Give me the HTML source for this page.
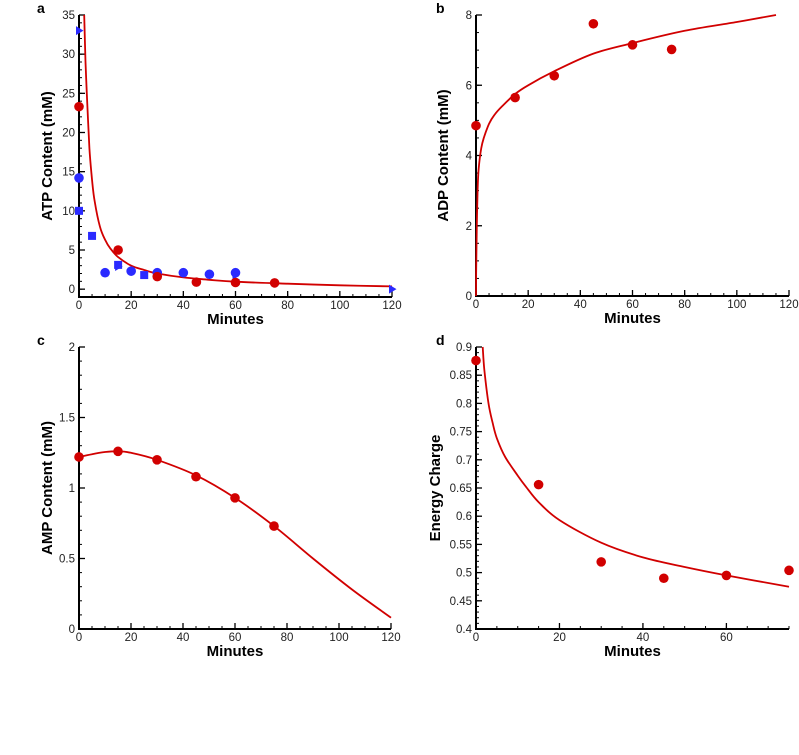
<!DOCTYPE html>
<html><head><meta charset="utf-8"><style>
body{margin:0;background:#fff;}
svg{display:block;font-family:"Liberation Sans",Arial,sans-serif;}
</style></head><body>
<svg id="fig" width="799" height="755" viewBox="0 0 799 755"></svg>
<script>
// Panel a data (ATP)
const atpRedT=[0,15,30,45,60,75];
const atpRedY=[23.3,5,1.6,0.9,0.85,0.8];
const atpCircT=[0,10,20,30,40,50,60];
const atpCircY=[14.2,2.1,2.3,2.1,2.1,1.9,2.1];
const atpSqT=[0,5,15,25];
const atpSqY=[10,6.8,3.1,1.8];
const atpTriT=[0,15,60,120];
const atpTriY=[33,2.9,1.2,0];
const atpFitT=[2,2.5,3,4,5,6,8,10,12,15,20,25,30,40,50,60,80,100,120];
const atpFitY=[35,29,25,18,14,11.2,8,6.3,5.2,4.1,3.0,2.45,2.0,1.5,1.2,0.95,0.7,0.5,0.35];
// Panel b data (ADP)
const adpT=[0,15,30,45,60,75];
const adpY=[4.85,5.65,6.27,7.75,7.15,7.02];
const adpFitT=[0,0.1,0.3,0.6,1,2,3,5,7,10,15,20,30,45,60,80,100,115];
const adpFitY=[0,1.0,2.0,3.0,3.6,4.2,4.5,4.9,5.15,5.4,5.75,6.0,6.4,6.9,7.2,7.55,7.8,8.0];
// Panel c data (AMP)
const ampT=[0,15,30,45,60,75];
const ampY=[1.22,1.26,1.2,1.08,0.93,0.73];
const ampFitT=[0,5,10,15,20,30,45,60,75,90,105,120];
const ampFitY=[1.22,1.24,1.255,1.26,1.25,1.2,1.09,0.93,0.73,0.5,0.28,0.08];
// Panel d data (Energy charge)
const ecT=[0,15,30,45,60,75];
const ecY=[0.876,0.656,0.519,0.49,0.495,0.504];
const ecFitT=[1.6,2,3,4,5,7,10,12,15,20,30,40,50,60,75];
const ecFitY=[0.9,0.86,0.8,0.765,0.738,0.705,0.672,0.652,0.625,0.593,0.553,0.527,0.51,0.495,0.475];
// Tick labels
const ticksA=[0,5,10,15,20,25,30,35];
const ticksB=[0,2,4,6,8];
const ticksC=[0,0.5,1,1.5,2];
const ticksD=[0.4,0.45,0.5,0.55,0.6,0.65,0.7,0.75,0.8,0.85,0.9];
const ticksX120=[0,20,40,60,80,100,120];
const ticksX75=[0,20,40,60];

const NS="http://www.w3.org/2000/svg";
const svg=document.getElementById('fig');
function mk(tag,attrs,parent){const e=document.createElementNS(NS,tag);for(const k in attrs)e.setAttribute(k,attrs[k]);(parent||svg).appendChild(e);return e;}
const RED="#d10000",BLUE="#2a2aff";

function smooth(pts){
  let d='M'+pts[0][0].toFixed(1)+','+pts[0][1].toFixed(1);
  for(let i=0;i<pts.length-1;i++){
    const p0=pts[i-1]||pts[i],p1=pts[i],p2=pts[i+1],p3=pts[i+2]||p2;
    const c1=[p1[0]+(p2[0]-p0[0])/6,p1[1]+(p2[1]-p0[1])/6];
    const c2=[p2[0]-(p3[0]-p1[0])/6,p2[1]-(p3[1]-p1[1])/6];
    d+=` C${c1[0].toFixed(1)},${c1[1].toFixed(1)} ${c2[0].toFixed(1)},${c2[1].toFixed(1)} ${p2[0].toFixed(1)},${p2[1].toFixed(1)}`;
  }
  return d;
}

function panel(p){
  const g=mk('g',{});
  
  
  const sx=v=>p.x0+(v-p.xmin)/(p.xmax-p.xmin)*(p.x1-p.x0);
  const sy=v=>p.y0-(v-p.ymin)/(p.ymax-p.ymin)*(p.y0-p.y1);
  for(let v=p.ymin;v<=p.ymax+1e-9;v+=p.yminor){const y=sy(v);const l=mk('line',{x1:p.x0,x2:p.x0+3,y1:y,y2:y,stroke:'#000','stroke-width':1},g);}
  for(let v=p.xmin;v<=p.xmax+1e-9;v+=p.xminor){const x=sx(v);const l=mk('line',{x1:x,x2:x,y1:p.y0,y2:p.y0-3,stroke:'#000','stroke-width':1},g);}
  p.yt.forEach(v=>{const y=sy(v);const l=mk('line',{x1:p.x0,x2:p.x0+6,y1:y,y2:y,stroke:'#000','stroke-width':1.3},g);
    const t=mk('text',{x:p.x0-4,y:y+4,'text-anchor':'end','font-size':11.5,fill:'#222'},g);t.textContent=p.yfmt?p.yfmt(v):v;});
  p.xt.forEach(v=>{const x=sx(v);const l=mk('line',{x1:x,x2:x,y1:p.y0,y2:p.y0-6,stroke:'#000','stroke-width':1.3},g);
    const t=mk('text',{x:x,y:p.y0+12,'text-anchor':'middle','font-size':11.5,fill:'#222'},g);t.textContent=v;});
  const ax=mk('path',{d:`M${p.x0},${p.y1} V${p.y0} H${p.x1}`,fill:'none',stroke:'#000','stroke-width':2},g);
  
  const pts=p.fitT.map((t,i)=>[sx(t),sy(p.fitY[i])]);
  const fl=mk('path',{d:smooth(pts),fill:'none',stroke:RED,'stroke-width':1.8},g);
  
  p.series.forEach(s=>{s.t.forEach((t,i)=>{const x=sx(t),y=sy(s.y[i]);let m;
    if(s.shape==='circle')m=mk('circle',{cx:x,cy:y,r:4.8,fill:s.color},g);
    else if(s.shape==='square')m=mk('rect',{x:x-4,y:y-4,width:8,height:8,fill:s.color},g);
    else m=mk('polygon',{points:`${x-3},${y-4.5} ${x+4.5},${y} ${x-3},${y+4.5}`,fill:s.color},g);
    });});
  const xl=mk('text',{x:(p.x0+p.x1)/2,y:p.y0+27,'text-anchor':'middle','font-size':15,'font-weight':'bold'},g);
  xl.textContent='Minutes';
  const yc=(p.y0+p.y1)/2;
  const yl=mk('text',{x:p.ytx,y:yc,'text-anchor':'middle','font-size':15,'font-weight':'bold',transform:`rotate(-90 ${p.ytx} ${yc})`},g);
  yl.textContent=p.ytitle;
  const pl=mk('text',{x:p.lx,y:p.ly,'font-size':14,'font-weight':'bold'},g);
  pl.textContent=p.letter;
}
panel({name:'panel-a-atp',x0:79,x1:392,y0:297,y1:15,xmin:0,xmax:120,ymin:-1,ymax:35,xminor:5,yminor:1,
  yt:ticksA,xt:ticksX120,fitT:atpFitT,fitY:atpFitY,ytitle:'ATP Content (mM)',ytx:52,letter:'a',lx:37,ly:13,
  series:[{name:'atp-blue-circle',shape:'circle',color:BLUE,t:atpCircT,y:atpCircY},{name:'atp-blue-square',shape:'square',color:BLUE,t:atpSqT,y:atpSqY},
  {name:'atp-blue-triangle',shape:'tri',color:BLUE,t:atpTriT,y:atpTriY},{name:'atp-red-point',shape:'circle',color:RED,t:atpRedT,y:atpRedY}]});
panel({name:'panel-b-adp',x0:476,x1:789,y0:296,y1:15,xmin:0,xmax:120,ymin:0,ymax:8,xminor:5,yminor:0.5,
  yt:ticksB,xt:ticksX120,fitT:adpFitT,fitY:adpFitY,ytitle:'ADP Content (mM)',ytx:448,letter:'b',lx:436,ly:13,
  series:[{name:'adp-point',shape:'circle',color:RED,t:adpT,y:adpY}]});
panel({name:'panel-c-amp',x0:79,x1:391,y0:629,y1:347,xmin:0,xmax:120,ymin:0,ymax:2,xminor:5,yminor:0.1,
  yt:ticksC,xt:ticksX120,fitT:ampFitT,fitY:ampFitY,ytitle:'AMP Content (mM)',ytx:52,letter:'c',lx:37,ly:345,
  series:[{name:'amp-point',shape:'circle',color:RED,t:ampT,y:ampY}]});
panel({name:'panel-d-energy-charge',x0:476,x1:789,y0:629,y1:347,xmin:0,xmax:75,ymin:0.4,ymax:0.9,xminor:5,yminor:0.01,
  yt:ticksD,xt:ticksX75,fitT:ecFitT,fitY:ecFitY,ytitle:'Energy Charge',ytx:440,letter:'d',lx:436,ly:345,yfmt:v=>String(+v.toFixed(2)),
  series:[{name:'energy-charge-point',shape:'circle',color:RED,t:ecT,y:ecY}]});
</script>
</body></html>
